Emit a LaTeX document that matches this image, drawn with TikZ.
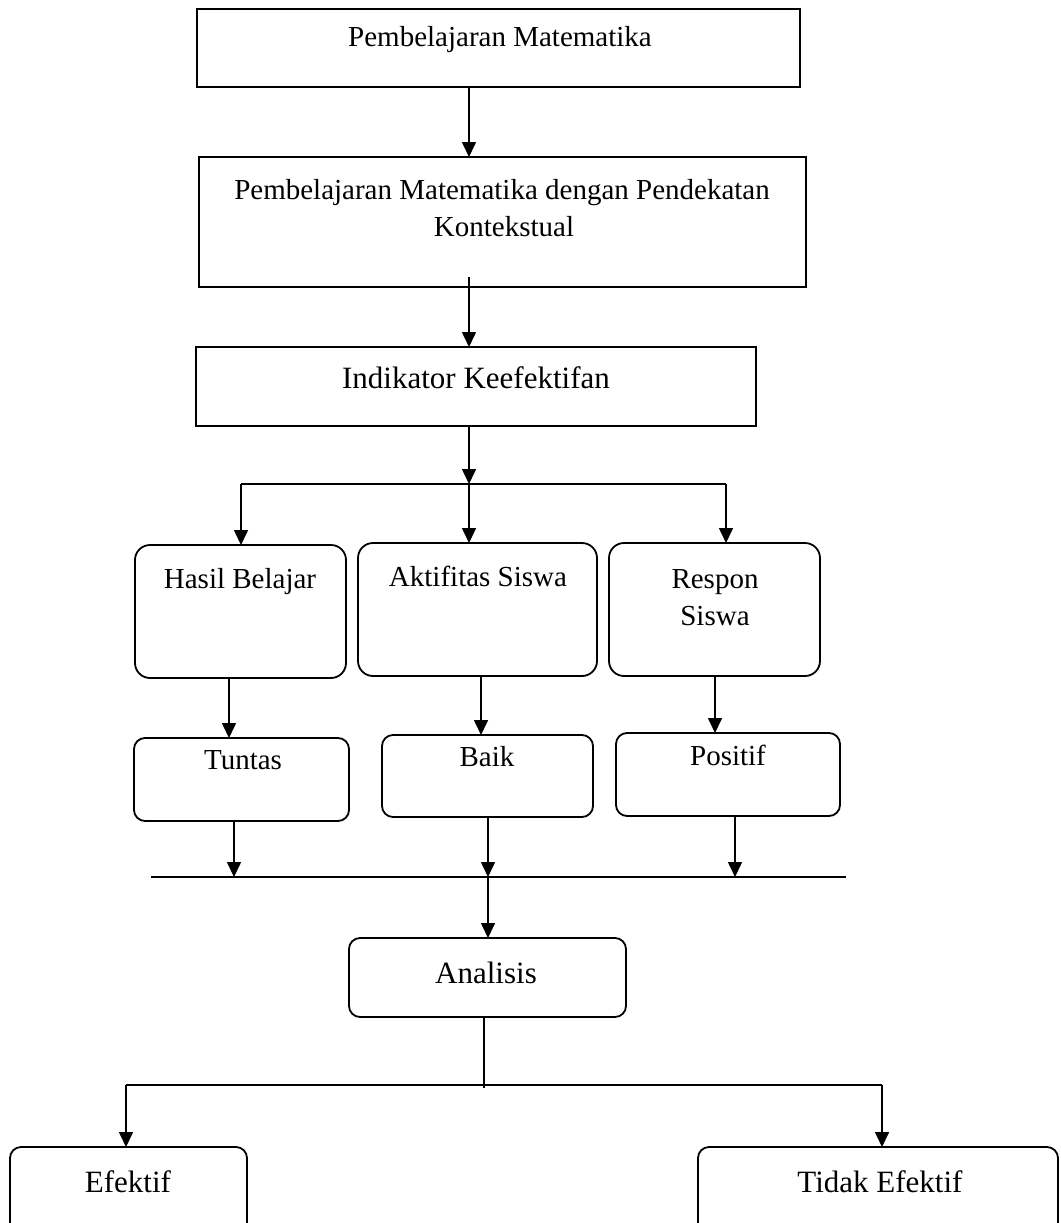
\documentclass[tikz,border=0pt]{standalone}
\usepackage{fontspec}
\setmainfont{Liberation Serif}
\usetikzlibrary{arrows.meta}
\begin{document}
\begin{tikzpicture}[x=1pt,y=-1pt,
  sq/.style={draw, line width=1.8pt, inner sep=0pt, outer sep=0pt},
  rbox/.style={sq, rounded corners=15pt},
  sbox/.style={sq, rounded corners=11pt},
  lbl/.style={anchor=base, inner sep=0pt, font=\fontsize{29}{36}\selectfont},
  lblb/.style={anchor=base, inner sep=0pt, font=\fontsize{31}{38}\selectfont},
  arr/.style={line width=1.6pt, -{Triangle[length=15pt,width=14pt]}},
  ln/.style={line width=1.6pt}]
\useasboundingbox (0,0) rectangle (1060,1223);
\clip (0,0) rectangle (1060,1223);
\fill[white] (0,0) rectangle (1060,1223);

% boxes
\node[sq, minimum width=603pt, minimum height=78pt] (b1) at (498.5,48) {};
\node[sq, minimum width=607pt, minimum height=130pt] (b2) at (502.5,222) {};
\node[sq, minimum width=560pt, minimum height=79pt] (b3) at (476,386.5) {};
\node[rbox, minimum width=211pt, minimum height=133pt] (hasil) at (240.5,611.5) {};
\node[rbox, minimum width=239pt, minimum height=133pt] (aktif) at (477.5,609.5) {};
\node[rbox, minimum width=211pt, minimum height=133pt] (respon) at (714.5,609.5) {};
\node[sbox, minimum width=215pt, minimum height=83pt] (tuntas) at (241.5,779.5) {};
\node[sbox, minimum width=211pt, minimum height=82pt] (baik) at (487.5,776) {};
\node[sbox, minimum width=224pt, minimum height=83pt] (positif) at (728,774.5) {};
\node[sbox, minimum width=277pt, minimum height=79pt] (analisis) at (487.5,977.5) {};
\node[sbox, minimum width=237pt, minimum height=93pt] (efektif) at (128.5,1193.5) {};
\node[sbox, minimum width=360pt, minimum height=93pt] (tidak) at (878,1193.5) {};

% texts
\node[lbl] (t1) at (500,47) {Pembelajaran Matematika};
\node[lbl] (t2a) at (502,199) {Pembelajaran Matematika dengan Pendekatan};
\node[lbl] (t2b) at (504,236) {Kontekstual};
\node[lblb] (t3) at (476,388) {Indikator Keefektifan};
\node[lbl] (thasil) at (240,588) {Hasil Belajar};
\node[lbl] (taktif) at (478,586) {Aktifitas Siswa};
\node[lbl] (trespon) at (715,588) {Respon};
\node[lbl] (tsiswa) at (715,625) {Siswa};
\node[lbl] (ttuntas) at (243,769) {Tuntas};
\node[lbl] (tbaik) at (487,766) {Baik};
\node[lbl] (tpositif) at (728,765) {Positif};
\node[lblb] (tanalisis) at (486,983) {Analisis};
\node[lblb] (tefektif) at (128,1192) {Efektif};
\node[lblb] (ttidak) at (880,1192) {Tidak Efektif};

% helper coordinates
\coordinate (spine) at (469,0);
\coordinate (a2s) at (469,277);
\coordinate (jy) at (0,484);
\coordinate (jl) at (241,0);
\coordinate (jr) at (726,0);
\coordinate (m1) at (229,0);
\coordinate (m2) at (481,0);
\coordinate (m3) at (715,0);
\coordinate (d1) at (234,0);
\coordinate (d2) at (488,0);
\coordinate (d3) at (735,0);
\coordinate (L1a) at (151,877);
\coordinate (L1b) at (846,877);
\coordinate (e1) at (484,1088);
\coordinate (J2a) at (126,1085);
\coordinate (J2b) at (882,1085);

% connectors
\draw[arr] (b1.south -| spine) -- (b2.north -| spine);
\draw[arr] (a2s) -- (b3.north -| spine);
\draw[arr] (b3.south -| spine) -- (spine |- jy);
\draw[ln] (jl |- jy) -- (jr |- jy);
\draw[arr] (jl |- jy) -- (hasil.north -| jl);
\draw[arr] (spine |- jy) -- (aktif.north -| spine);
\draw[arr] (jr |- jy) -- (respon.north -| jr);

\draw[arr] (hasil.south -| m1) -- (tuntas.north -| m1);
\draw[arr] (aktif.south -| m2) -- (baik.north -| m2);
\draw[arr] (respon.south -| m3) -- (positif.north -| m3);

\draw[arr] (tuntas.south -| d1) -- (d1 |- L1a);
\draw[arr] (baik.south -| d2) -- (d2 |- L1a);
\draw[arr] (positif.south -| d3) -- (d3 |- L1a);
\draw[ln] (L1a) -- (L1b);
\draw[arr] (d2 |- L1a) -- (analisis.north -| d2);

\draw[line width=1.2pt] (analisis.south -| e1) -- (e1);
\draw[ln] (J2a) -- (J2b);
\draw[arr] (J2a) -- (efektif.north -| J2a);
\draw[arr] (J2b) -- (tidak.north -| J2b);
\end{tikzpicture}
\end{document}
